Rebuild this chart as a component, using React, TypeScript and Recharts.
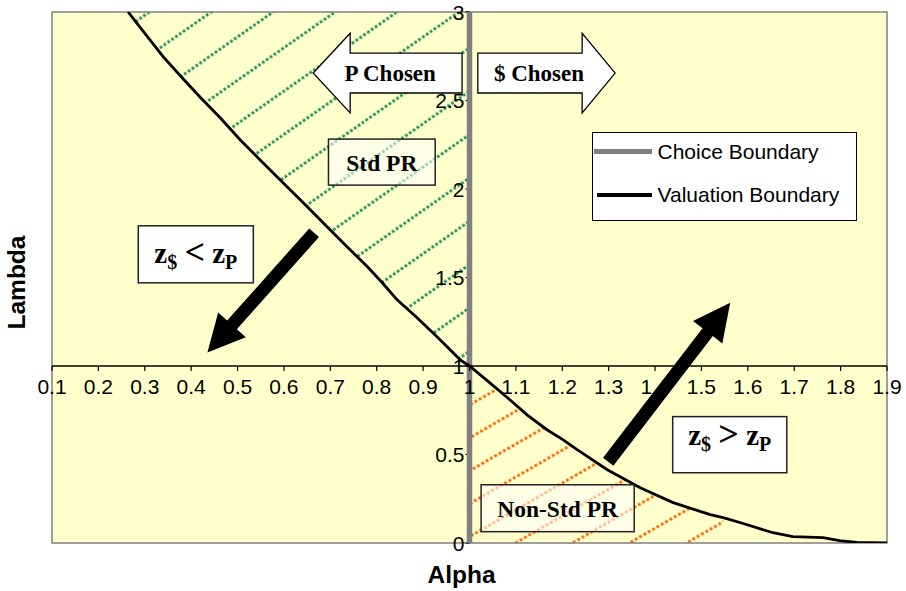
import {
  ComposedChart,
  Line,
  Area,
  XAxis,
  YAxis,
  CartesianGrid,
  ReferenceArea,
  ReferenceLine,
  ReferenceDot,
  Legend,
} from "recharts"

// valuation boundary
const valuationAlpha = [
  0.264, 0.301, 0.34, 0.379, 0.419, 0.463, 0.506, 0.553, 0.598, 0.646, 0.693, 0.736, 0.78, 0.812, 0.844, 0.887,
  0.93, 0.98, 1.0, 1.044, 1.087, 1.124, 1.167, 1.202, 1.232, 1.297, 1.368, 1.439, 1.519, 1.547, 1.59, 1.654, 1.697,
  1.762, 1.798, 1.835, 1.9,
]
const valuationLambda = [
  3.0, 2.876, 2.746, 2.633, 2.52, 2.401, 2.277, 2.153, 2.035, 1.911, 1.787, 1.674, 1.561, 1.47, 1.374, 1.273, 1.165,
  1.035, 1.0, 0.905, 0.809, 0.724, 0.64, 0.583, 0.527, 0.414, 0.312, 0.228, 0.16, 0.143, 0.11, 0.058, 0.036, 0.03,
  0.013, 0.003, 0.0,
]

// choice boundary (vertical at alpha = 1)
const choiceAlpha = [1, 1]
const choiceLambda = [0, 3]

const seriesNames = ["Choice Boundary", "Valuation Boundary"]

const alphaTicks = [0.1, 0.2, 0.3, 0.4, 0.5, 0.6, 0.7, 0.8, 0.9, 1, 1.1, 1.2, 1.3, 1.4, 1.5, 1.6, 1.7, 1.8, 1.9]
const alphaTickLabels = ["0.1", "0.2", "0.3", "0.4", "0.5", "0.6", "0.7", "0.8", "0.9", "1", "1.1", "1.2", "1.3", "1.4", "1.5", "1.6", "1.7", "1.8", "1.9"]
const lambdaTicks = [0, 0.5, 1, 1.5, 2, 2.5, 3]
const lambdaTickLabels = ["0", "0.5", "1", "1.5", "2", "2.5", "3"]

// end of the hatched non-standard region
const nonStdHatchEnd = 1.55

const SANS = "'Liberation Sans', Arial, Helvetica, sans-serif"
const SERIF = "'Liberation Serif', 'Times New Roman', Times, serif"

const CHOICE_W = 5.5
const VALUATION_W = 2.8

// annotation boxes, in data units
const boxes = {
  pChosen: { x1: 0.663, x2: 0.984, y1: 2.43, y2: 2.88 },
  dChosen: { x1: 1.018, x2: 1.314, y1: 2.43, y2: 2.88 },
  stdPr: { x1: 0.696, x2: 0.926, y1: 2.022, y2: 2.282 },
  zLess: { x1: 0.286, x2: 0.534, y1: 1.47, y2: 1.792 },
  zMore: { x1: 1.438, x2: 1.684, y1: 0.397, y2: 0.714 },
  nonStd: { x1: 1.025, x2: 1.355, y1: 0.064, y2: 0.329 },
}
const arrowDown = [{ x: 0.665, y: 1.753 }, { x: 0.435, y: 1.076 }]
const arrowUp = [{ x: 1.299, y: 0.459 }, { x: 1.562, y: 1.357 }]

const valuationData = valuationAlpha.map((a, i) => ({ alpha: a, lambda: valuationLambda[i] }))
const choiceData = choiceAlpha.map((a, i) => ({ alpha: a, lambda: choiceLambda[i] }))
const stdBand = valuationData.filter((d) => d.alpha <= 1).map((d) => ({ alpha: d.alpha, band: [d.lambda, 3] }))
const nonStdBand = valuationData
  .filter((d) => d.alpha >= 1 && d.alpha <= nonStdHatchEnd)
  .map((d) => ({ alpha: d.alpha, band: [0, d.lambda] }))

const AlphaTitle = ({ viewBox }: any) => (
  <text
    x={viewBox.x + viewBox.width / 2 - 8}
    y={viewBox.y + 40}
    textAnchor="middle"
    fontFamily={SANS}
    fontWeight="bold"
    fontSize={24.5}
    fill="#000"
  >
    Alpha
  </text>
)

const LambdaTitle = ({ viewBox }: any) => {
  const cx = 16.5
  const cy = viewBox.y + viewBox.height / 2 + 5
  return (
    <text
      x={cx}
      y={cy}
      dy="0.35em"
      transform={`rotate(-90, ${cx}, ${cy})`}
      textAnchor="middle"
      fontFamily={SANS}
      fontWeight="bold"
      fontSize={24.5}
      fill="#000"
    >
      Lambda
    </text>
  )
}

const alphaTick = (label: string) => (p: any) => (
  <g>
    <line x1={p.cx} y1={p.cy} x2={p.cx} y2={p.cy + 5} stroke="#000" strokeWidth={1.2} />
    <text x={p.cx} y={p.cy + 28} textAnchor="middle" fontFamily={SANS} fontSize={21} fill="#000">
      {label}
    </text>
  </g>
)

const lambdaTick = (label: string) => (p: any) => (
  <g>
    <line x1={p.cx - 4} y1={p.cy} x2={p.cx} y2={p.cy} stroke="#000" strokeWidth={1.2} />
    <text x={p.cx - 5} y={p.cy} dy="0.36em" textAnchor="end" fontFamily={SANS} fontSize={21} fill="#000">
      {label}
    </text>
  </g>
)

const blockArrow = (dir: "left" | "right", label: string, head: number, textAt: number) => (p: any) => {
  const { x, y, width: w, height: h } = p
  const top = y + h * 0.25
  const bot = y + h * 0.75
  const pts =
    dir === "left"
      ? [[x, y + h / 2], [x + head, y], [x + head, top], [x + w, top], [x + w, bot], [x + head, bot], [x + head, y + h]]
      : [[x + w, y + h / 2], [x + w - head, y], [x + w - head, top], [x, top], [x, bot], [x + w - head, bot], [x + w - head, y + h]]
  return (
    <g>
      <polygon points={pts.map((q) => q.join(",")).join(" ")} fill="#fff" stroke="#000" strokeWidth={1.3} />
      <text x={x + w * textAt} y={y + h / 2 + 8} textAnchor="middle" fontFamily={SERIF} fontWeight="bold" fontSize={23} fill="#000">
        {label}
      </text>
    </g>
  )
}

const labelBox = (label: string, fillOpacity: number) => (p: any) => {
  const { x, y, width: w, height: h } = p
  return (
    <g>
      <rect x={x} y={y} width={w} height={h} fill="#fff" fillOpacity={fillOpacity} stroke="#222" strokeWidth={1.5} />
      <text x={x + w / 2} y={y + h / 2 + 8.5} textAnchor="middle" fontFamily={SERIF} fontWeight="bold" fontSize={23.5} fill="#000">
        {label}
      </text>
    </g>
  )
}

const zBox = (op: string, baseAt: number) => (p: any) => {
  const { x, y, width: w, height: h } = p
  return (
    <g>
      <rect x={x} y={y} width={w} height={h} fill="#fff" stroke="#222" strokeWidth={1.5} />
      <text x={x + w / 2} y={y + h * baseAt} textAnchor="middle" fontFamily={SERIF} fontWeight="bold" fontSize={29} fill="#000">
        z
        <tspan fontSize={20} dy={6}>
          $
        </tspan>
        <tspan dy={-6}> </tspan>
        <tspan fontSize={36} dy={1}>
          {op}
        </tspan>
        <tspan dy={-1}> z</tspan>
        <tspan fontSize={20} dy={6}>
          P
        </tspan>
      </text>
    </g>
  )
}

const ThickArrow = (p: any) => {
  const { x1, y1, x2, y2 } = p
  const len = Math.hypot(x2 - x1, y2 - y1)
  const ux = (x2 - x1) / len
  const uy = (y2 - y1) / len
  const nx = -uy
  const ny = ux
  const head = 37
  const hw = 18.5
  const sw = 6.5
  const bx = x2 - ux * head
  const by = y2 - uy * head
  const pts = [
    [x1 + nx * sw, y1 + ny * sw],
    [bx + nx * sw, by + ny * sw],
    [bx + nx * hw, by + ny * hw],
    [x2, y2],
    [bx - nx * hw, by - ny * hw],
    [bx - nx * sw, by - ny * sw],
    [x1 - nx * sw, y1 - ny * sw],
  ]
  return <polygon points={pts.map((q) => q.join(",")).join(" ")} fill="#000" />
}

const sampleWidths = [CHOICE_W, VALUATION_W + 0.7]

const LegendBox = ({ payload }: any) => {
  const items = seriesNames.map((n) => (payload || []).find((e: any) => e.value === n)).filter(Boolean)
  return (
    <div
      style={{
        boxSizing: "border-box",
        width: 265,
        height: 89,
        border: "1.5px solid #000",
        background: "#fff",
        position: "relative",
        fontFamily: SANS,
        fontSize: 21,
        color: "#000",
      }}
    >
      {items.map((e: any, i: number) => (
        <div
          key={e.value}
          style={{ position: "absolute", left: 0, top: i === 0 ? 6.5 : 50, height: 24, display: "flex", alignItems: "center" }}
        >
          <div
            style={{
              marginLeft: i === 0 ? 0.5 : 3.5,
              width: i === 0 ? 58 : 55,
              height: sampleWidths[i],
              background: e.color,
            }}
          />
          <span style={{ marginLeft: 6, whiteSpace: "nowrap", lineHeight: "24px" }}>{e.value}</span>
        </div>
      ))}
    </div>
  )
}

export default function App() {
  return (
    <div style={{ width: 906, height: 591, position: "relative", background: "#fff" }}>
      <style>{`body{margin:0}`}</style>
      <ComposedChart width={906} height={591} margin={{ top: 12, right: 19, bottom: 0, left: 0 }}>
        <defs>
          <pattern id="stdHatch" patternUnits="userSpaceOnUse" width={4.7} height={35.5} patternTransform="rotate(-35)">
            <rect x={0} y={23.1} width={2.8} height={2.8} fill="#22945C" />
          </pattern>
          <pattern id="nonStdHatch" patternUnits="userSpaceOnUse" width={5} height={28.5} patternTransform="rotate(-30)">
            <rect x={0} y={14.1} width={2.8} height={2.8} fill="#FF6200" />
          </pattern>
        </defs>
        <CartesianGrid horizontal={false} vertical={false} fill="#FFFFCC" />
        <XAxis
          type="number"
          dataKey="alpha"
          domain={[0.1, 1.9]}
          ticks={alphaTicks}
          allowDataOverflow
          height={48}
          tick={false}
          tickLine={false}
          axisLine={false}
          label={<AlphaTitle />}
        />
        <YAxis
          type="number"
          domain={[0, 3]}
          ticks={lambdaTicks}
          allowDataOverflow
          width={52}
          tick={false}
          tickLine={false}
          axisLine={false}
          label={<LambdaTitle />}
        />
        <Area
          data={stdBand}
          dataKey="band"
          type="linear"
          stroke="none"
          fill="url(#stdHatch)"
          fillOpacity={1}
          legendType="none"
          dot={false}
          activeDot={false}
          isAnimationActive={false}
          zIndex={100}
        />
        <Area
          data={nonStdBand}
          dataKey="band"
          type="linear"
          stroke="none"
          fill="url(#nonStdHatch)"
          fillOpacity={1}
          legendType="none"
          dot={false}
          activeDot={false}
          isAnimationActive={false}
          zIndex={101}
        />
        <ReferenceArea x1={0.1} x2={1.9} y1={0} y2={3} fill="none" stroke="#808080" strokeWidth={1.5} zIndex={150} />
        {lambdaTicks.map((v, i) => (
          <ReferenceDot key={`ly${v}`} x={1} y={v} r={1} shape={lambdaTick(lambdaTickLabels[i])} zIndex={200} />
        ))}
        <Line
          data={choiceData}
          dataKey="lambda"
          name={seriesNames[0]}
          type="linear"
          stroke="#808080"
          strokeWidth={CHOICE_W}
          dot={false}
          activeDot={false}
          isAnimationActive={false}
          zIndex={400}
        />
        <Line
          data={valuationData}
          dataKey="lambda"
          name={seriesNames[1]}
          type="linear"
          stroke="#000"
          strokeWidth={VALUATION_W}
          dot={false}
          activeDot={false}
          isAnimationActive={false}
          zIndex={410}
        />
        <ReferenceLine y={1} stroke="#000" strokeWidth={1.3} zIndex={420} />
        {alphaTicks.map((v, i) => (
          <ReferenceDot key={`ax${v}`} x={v} y={1} r={1} shape={alphaTick(alphaTickLabels[i])} zIndex={430} />
        ))}
        <ReferenceArea {...boxes.stdPr} shape={labelBox("Std PR", 0.55)} zIndex={440} />
        <ReferenceArea {...boxes.nonStd} shape={labelBox("Non-Std PR", 0.55)} zIndex={440} />
        <ReferenceArea {...boxes.zLess} shape={zBox("<", 0.65)} zIndex={440} />
        <ReferenceArea {...boxes.zMore} shape={zBox(">", 0.5)} zIndex={440} />
        <ReferenceArea {...boxes.pChosen} shape={blockArrow("left", "P Chosen", 37, 0.517)} zIndex={450} />
        <ReferenceArea {...boxes.dChosen} shape={blockArrow("right", "$ Chosen", 33, 0.445)} zIndex={450} />
        <ReferenceLine segment={arrowDown} shape={ThickArrow} zIndex={460} />
        <ReferenceLine segment={arrowUp} shape={ThickArrow} zIndex={460} />
        <Legend
          layout="vertical"
          align="center"
          verticalAlign="middle"
          wrapperStyle={{ left: 592, top: 132, width: 265, height: 89 }}
          content={<LegendBox />}
        />
      </ComposedChart>
    </div>
  )
}
